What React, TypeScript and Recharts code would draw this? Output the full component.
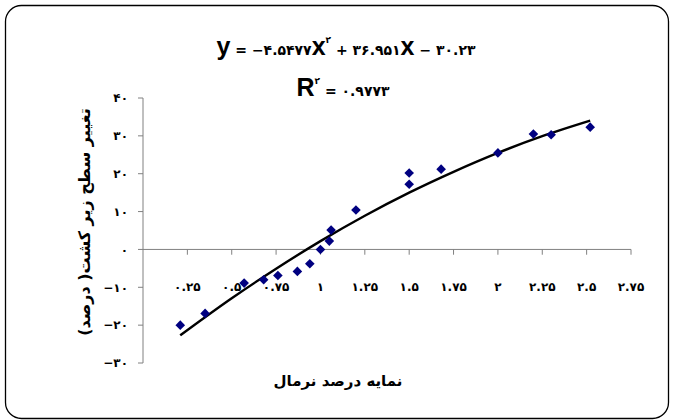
import React from "react";
import {
  ComposedChart,
  Line,
  Scatter,
  XAxis,
  YAxis,
  ReferenceLine,
} from "recharts";

const xTicks = [0.25, 0.5, 0.75, 1, 1.25, 1.5, 1.75, 2, 2.25, 2.5, 2.75];
const yTicks = [-30, -20, -10, 0, 10, 20, 30, 40];

// observed points (نمایه درصد نرمال / تغییر سطح زیر کشت)
const pointX = [0.21, 0.35, 0.57, 0.68, 0.76, 0.87, 0.94, 1.0, 1.05, 1.06, 1.2, 1.5, 1.5, 1.68, 2.0, 2.2, 2.3, 2.52];
const pointY = [-20.0, -16.9, -8.9, -8.0, -6.9, -5.8, -3.8, 0.0, 2.2, 5.1, 10.4, 20.2, 17.2, 21.2, 25.5, 30.5, 30.3, 32.3];

// trend line
const trendX = [0.21, 0.5, 0.75, 1.0, 1.25, 1.5, 1.75, 2.0, 2.25, 2.52];
const trendY = [-22.7, -12.9, -5.1, 2.2, 8.9, 15.0, 20.5, 25.5, 29.9, 34.0];

const FA_DIGITS = "۰۱۲۳۴۵۶۷۸۹";
const fa = (v: number | string) =>
  String(v)
    .replace(/-/g, "−")
    .replace(/\d/g, (d) => FA_DIGITS[+d]);

const AXIS_GREY = "#808080";
const FA_FONT = "DejaVu Sans";

const scatterData = pointX.map((x, i) => ({ x, y: pointY[i] }));
const trendData = trendX.map((x, i) => ({ x, y: trendY[i] }));

function Diamond(props: any) {
  const { cx, cy } = props;
  const r = 4.8;
  return (
    <path
      d={`M${cx},${cy - r}L${cx + r},${cy}L${cx},${cy + r}L${cx - r},${cy}Z`}
      fill="#000080"
    />
  );
}

function XTick(props: any) {
  const { x, y, payload } = props;
  return (
    <text
      x={x}
      y={y}
      dy={-80}
      textAnchor="middle"
      fontFamily={FA_FONT}
      fontSize={12}
      fontWeight="bold"
      fill="#000"
    >
      {fa(payload.value)}
    </text>
  );
}

export default function App() {
  const big = { fontFamily: "Liberation Sans", fontWeight: "bold", fontSize: 25 } as const;
  const num = { fontFamily: FA_FONT, fontWeight: "bold", fontSize: 14 } as const;

  return (
    <div style={{ position: "absolute", left: 0, top: 0, width: 679, height: 420, background: "#fff" }}>
      <ComposedChart
        width={679}
        height={420}
        margin={{ top: 98, right: 48, bottom: 27, left: 0 }}
      >
        <XAxis
          type="number"
          dataKey="x"
          domain={[0, 2.75]}
          ticks={xTicks}
          interval={0}
          height={30}
          axisLine={false}
          tickLine={false}
          tick={<XTick />}
        />
        <YAxis
          type="number"
          dataKey="y"
          domain={[-30, 40]}
          ticks={yTicks}
          interval={0}
          width={143}
          axisLine={{ stroke: AXIS_GREY }}
          tickLine={{ stroke: AXIS_GREY }}
          tickSize={5}
          tickMargin={10}
          tick={{ fontFamily: FA_FONT, fontSize: 12, fontWeight: "bold", fill: "#000" }}
          tickFormatter={fa}
        />
        <ReferenceLine y={0} stroke={AXIS_GREY} />
        {xTicks.map((t) => (
          <ReferenceLine
            key={t}
            segment={[{ x: t, y: 0 }, { x: t, y: -1.4 }]}
            stroke={AXIS_GREY}
          />
        ))}
        <Line
          data={trendData}
          dataKey="y"
          type="monotone"
          stroke="#000"
          strokeWidth={2.4}
          dot={false}
          activeDot={false}
          isAnimationActive={false}
        />
        <Scatter
          data={scatterData}
          dataKey="y"
          shape={<Diamond />}
          isAnimationActive={false}
        />
      </ComposedChart>

      <svg
        width={679}
        height={420}
        style={{ position: "absolute", left: 0, top: 0, pointerEvents: "none" }}
      >
        <rect x={5.5} y={5.5} width={663} height={413} rx={16} fill="none" stroke="#000" strokeWidth={1.3} />
        <text x={346} y={55} textAnchor="middle">
          <tspan {...big}>y</tspan>
          <tspan {...num}> = −۴.۵۴۷۷</tspan>
          <tspan {...big}>x</tspan>
          <tspan {...num} fontSize={9} dy={-12}>۲</tspan>
          <tspan {...num} dy={12}> + ۳۶.۹۵۱</tspan>
          <tspan {...big}>x</tspan>
          <tspan {...num}> − ۳۰.۲۳</tspan>
        </text>
        <text x={343} y={96} textAnchor="middle">
          <tspan {...big}>R</tspan>
          <tspan {...num} fontSize={9} dy={-12}>۲</tspan>
          <tspan {...num} dy={12}> = ۰.۹۷۷۳</tspan>
        </text>
        <text
          transform="translate(90,222) rotate(-90)"
          textAnchor="middle"
          direction="rtl"
          style={{ direction: "rtl", unicodeBidi: "embed" }}
          fontFamily={FA_FONT}
          fontWeight="bold"
          fontSize={16}
        >
          تغییر سطح زیر کشت( درصد)
        </text>
        <text
          x={338}
          y={386}
          textAnchor="middle"
          direction="rtl"
          style={{ direction: "rtl", unicodeBidi: "embed" }}
          fontFamily={FA_FONT}
          fontWeight="bold"
          fontSize={15}
        >
          نمایه درصد نرمال
        </text>
      </svg>
    </div>
  );
}
